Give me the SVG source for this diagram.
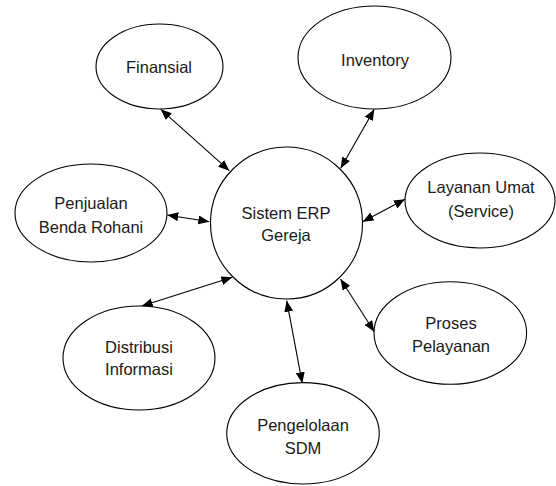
<svg xmlns="http://www.w3.org/2000/svg" width="556" height="486" viewBox="0 0 556 486">
<defs>
<style>
.n{fill:#fff;stroke:#000;stroke-width:1.1}
.t{font-family:"Liberation Sans",Arial,sans-serif;font-size:16.5px;fill:#1a1a1a;text-anchor:middle;dominant-baseline:central}
.c{stroke:#000;stroke-width:1.1;fill:none;marker-start:url(#ah);marker-end:url(#ah)}
</style>
<marker id="ah" markerUnits="userSpaceOnUse" markerWidth="11" markerHeight="9" refX="11" refY="4.5" orient="auto-start-reverse">
<path d="M0,0 L11,4.5 L0,9 z" fill="#000"/>
</marker>
</defs>
<rect width="556" height="486" fill="#fff"/>
<g id="connectors">
<line class="c" x1="160.7" y1="109.3" x2="229.3" y2="170.7"/>
<line class="c" x1="374.3" y1="109.3" x2="340.7" y2="168.3"/>
<line class="c" x1="167.3" y1="215" x2="209.3" y2="221.7"/>
<line class="c" x1="405" y1="199.3" x2="362.7" y2="221.7"/>
<line class="c" x1="141.7" y1="306" x2="232.3" y2="277.3"/>
<line class="c" x1="340.5" y1="279" x2="374.3" y2="331.7"/>
<line class="c" x1="286.7" y1="300.7" x2="302.3" y2="383.3"/>
</g>
<g id="center">
<circle class="n" cx="286.5" cy="223" r="76"/>
<text class="t" x="286" y="212.7">Sistem ERP</text>
<text class="t" x="286" y="235">Gereja</text>
</g>
<g id="finansial">
<ellipse class="n" cx="159.5" cy="66.5" rx="63.5" ry="42.5"/>
<text class="t" x="159" y="67">Finansial</text>
</g>
<g id="inventory">
<ellipse class="n" cx="374.5" cy="57.5" rx="76.5" ry="51.5"/>
<text class="t" x="375" y="59.5">Inventory</text>
</g>
<g id="penjualan">
<ellipse class="n" cx="91" cy="213" rx="76" ry="49"/>
<text class="t" x="91" y="203">Penjualan</text>
<text class="t" x="91" y="227">Benda Rohani</text>
</g>
<g id="layanan">
<ellipse class="n" cx="480" cy="200.5" rx="75" ry="47.5"/>
<text class="t" x="481" y="186.7">Layanan Umat</text>
<text class="t" x="481" y="210.7">(Service)</text>
</g>
<g id="distribusi">
<ellipse class="n" cx="139" cy="358" rx="76" ry="52"/>
<text class="t" x="139" y="346.7">Distribusi</text>
<text class="t" x="139" y="369.3">Informasi</text>
</g>
<g id="proses">
<ellipse class="n" cx="450.3" cy="333" rx="76.3" ry="51.3"/>
<text class="t" x="451" y="322.7">Proses</text>
<text class="t" x="451" y="346">Pelayanan</text>
</g>
<g id="pengelolaan">
<ellipse class="n" cx="303" cy="433.3" rx="76.3" ry="50.7"/>
<text class="t" x="303" y="425">Pengelolaan</text>
<text class="t" x="303" y="448">SDM</text>
</g>
</svg>
